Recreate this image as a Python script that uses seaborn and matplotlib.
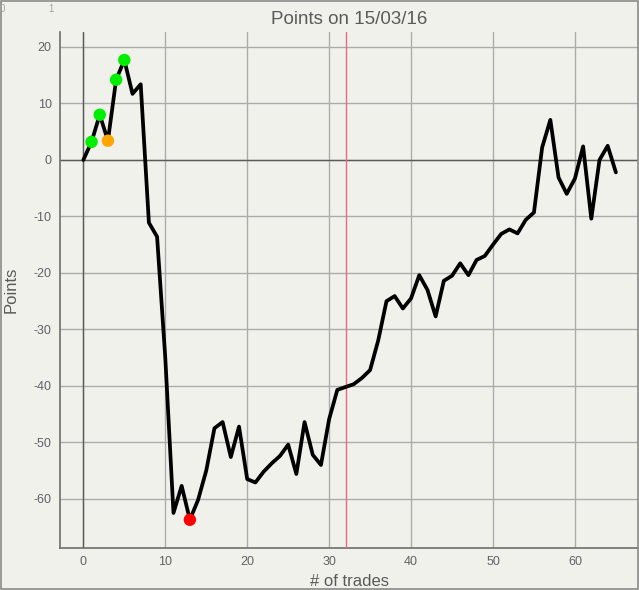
import numpy as np
import pandas as pd
import matplotlib.pyplot as plt
import seaborn as sns

# ======================================================
# DATA
# ======================================================

trades = list(range(66))

points = [
    0.0, 3.2, 8.0, 3.4, 14.2, 17.7, 11.7, 13.4, -11.1, -13.6,
    -35.0, -62.5, -57.7, -63.7, -60.2, -55.0, -47.5, -46.4, -52.6, -47.2,
    -56.5, -57.1, -55.2, -53.7, -52.4, -50.4, -55.6, -46.4, -52.2, -54.0,
    -45.9, -40.7, -40.2, -39.7, -38.6, -37.2, -31.9, -25.0, -24.1, -26.3,
    -24.5, -20.4, -23.0, -27.7, -21.4, -20.5, -18.3, -20.4, -17.7, -17.0,
    -15.0, -13.1, -12.3, -13.0, -10.6, -9.3, 2.2, 7.1, -3.1, -6.0,
    -3.3, 2.4, -10.4, 0.0, 2.5, -2.2
]

green_trades = [1, 2, 4, 5]
orange_trades = [3]
red_trades = [13]

marker_line = 32

df = pd.DataFrame({"trade": trades, "points": points})
green_df = df[df["trade"].isin(green_trades)]
orange_df = df[df["trade"].isin(orange_trades)]
red_df = df[df["trade"].isin(red_trades)]

# ======================================================
# STYLE
# ======================================================

bg = "#f1f1ec"

sns.set_style("whitegrid", {
    "axes.facecolor": bg,
    "figure.facecolor": bg,
    "grid.color": "#ababab",
    "axes.edgecolor": "#6e6e6e",
})
plt.rcParams["font.family"] = ["Liberation Sans", "DejaVu Sans"]
plt.rcParams["axes.unicode_minus"] = False

fig = plt.figure(figsize=(6.39, 5.90), dpi=100)
ax = fig.add_axes([60 / 639, 42 / 590, 578 / 639, 516 / 590])

# ======================================================
# PLOT
# ======================================================

sns.lineplot(data=df, x="trade", y="points", color="black",
             linewidth=2.7, ax=ax, zorder=4)

sns.scatterplot(data=green_df, x="trade", y="points", color="#00ee00",
                s=80, edgecolor="none", ax=ax, zorder=5)
sns.scatterplot(data=orange_df, x="trade", y="points", color="#ffa500",
                s=80, edgecolor="none", ax=ax, zorder=5)
sns.scatterplot(data=red_df, x="trade", y="points", color="#ff0000",
                s=80, edgecolor="none", ax=ax, zorder=5)

ax.axhline(0, color="#5a5a5a", linewidth=1.0, zorder=2)
ax.axvline(0, color="#5a5a5a", linewidth=1.0, zorder=2)
ax.axvline(marker_line, color="#e86a7e", linewidth=1.0, zorder=3)

ax.set_xlim(-2.85, 67.7)
ax.set_ylim(-68.7, 22.65)
ax.set_xticks(np.arange(0, 61, 10))
ax.set_yticks(np.arange(-60, 21, 10))
ax.grid(True, linewidth=1.0)

for side in ["top", "right"]:
    ax.spines[side].set_visible(False)
for side in ["left", "bottom"]:
    ax.spines[side].set_linewidth(1.2)

ax.tick_params(axis="both", length=0, labelsize=9, labelcolor="#606068",
               pad=6)

ax.set_title("Points on 15/03/16", fontsize=13.5, color="#5a5a5a", pad=6)
ax.set_xlabel("# of trades", fontsize=12, color="#5a5a5a", va="center")
ax.set_ylabel("Points", fontsize=12, color="#5a5a5a", va="center")
ax.xaxis.set_label_coords(0.5, -0.064)
ax.yaxis.set_label_coords(-0.084, 0.5)

# stray tiny axis labels in the corner
fig.text(0.0, 0.985, "0", fontsize=7, color="#a0a0a0", va="center")
fig.text(51 / 639, 0.985, "1", fontsize=7, color="#a0a0a0", va="center",
         ha="center")

# figure frame
fig.patches.append(plt.Rectangle((0.001, 0.001), 0.997, 0.997,
                                 transform=fig.transFigure, fill=False,
                                 edgecolor="#8a8a8a", linewidth=1.2))

plt.savefig("out.png", dpi=100, facecolor=bg)
plt.close()
